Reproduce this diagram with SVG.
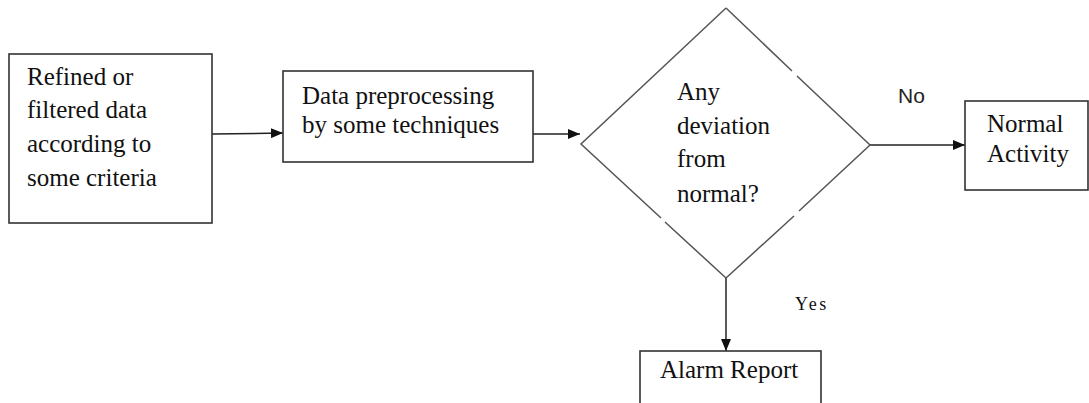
<svg xmlns="http://www.w3.org/2000/svg" width="1089" height="403" viewBox="0 0 1089 403">
<style>
.box{fill:#fff;stroke:#333;stroke-width:1.6}
.dia{fill:none;stroke:#555;stroke-width:1.5}
.t{font-family:"Liberation Serif","Times New Roman",serif;font-size:25px;fill:#111}
.lbl{font-family:"Liberation Sans",Arial,sans-serif;font-size:21px;fill:#222}
.c{stroke:#222;stroke-width:1.5;fill:none}
</style>
<defs>
<marker id="ah" markerWidth="12" markerHeight="10" refX="12" refY="5" orient="auto" markerUnits="userSpaceOnUse">
<path d="M0,0 L12,5 L0,10 Z" fill="#111"/>
</marker>
</defs>
<rect width="1089" height="403" fill="#fff"/>
<g id="connectors">
<line class="c" x1="212" y1="134" x2="283" y2="133" marker-end="url(#ah)"/>
<line class="c" x1="533" y1="134" x2="580" y2="134" marker-end="url(#ah)"/>
<line class="c" x1="870" y1="145" x2="965" y2="145" marker-end="url(#ah)"/>
<line class="c" x1="726" y1="278" x2="726" y2="351" marker-end="url(#ah)"/>
</g>
<g id="n1">
<rect class="box" x="9" y="54" width="203" height="169"/>
<text class="t" x="27" y="85">Refined or</text>
<text class="t" x="27" y="118">filtered data</text>
<text class="t" x="27" y="152">according to</text>
<text class="t" x="27" y="186">some criteria</text>
</g>
<g id="n2">
<rect class="box" x="283" y="71" width="250" height="91"/>
<text class="t" x="302" y="104">Data preprocessing</text>
<text class="t" x="302" y="133">by some techniques</text>
</g>
<g id="n3">
<path class="dia" d="M726,8 L792,71 M797,76 L870,145 L799,211 M794,216 L726,278 L665,222 M661,218 L581,144 L726,8"/>
<text class="t" x="677" y="100">Any</text>
<text class="t" x="677" y="134">deviation</text>
<text class="t" x="677" y="167">from</text>
<text class="t" x="677" y="202">normal?</text>
</g>
<g id="n4">
<rect class="box" x="965" y="101" width="123" height="89"/>
<text class="t" x="987" y="132">Normal</text>
<text class="t" x="987" y="162">Activity</text>
</g>
<g id="n5">
<rect class="box" x="640" y="351" width="181" height="60"/>
<text class="t" x="660" y="378">Alarm Report</text>
</g>
<g id="labels">
<text class="lbl" x="898" y="103">No</text>
<text class="t" x="795" y="310" style="font-size:18px;letter-spacing:2.5px">Yes</text>
</g>
</svg>
